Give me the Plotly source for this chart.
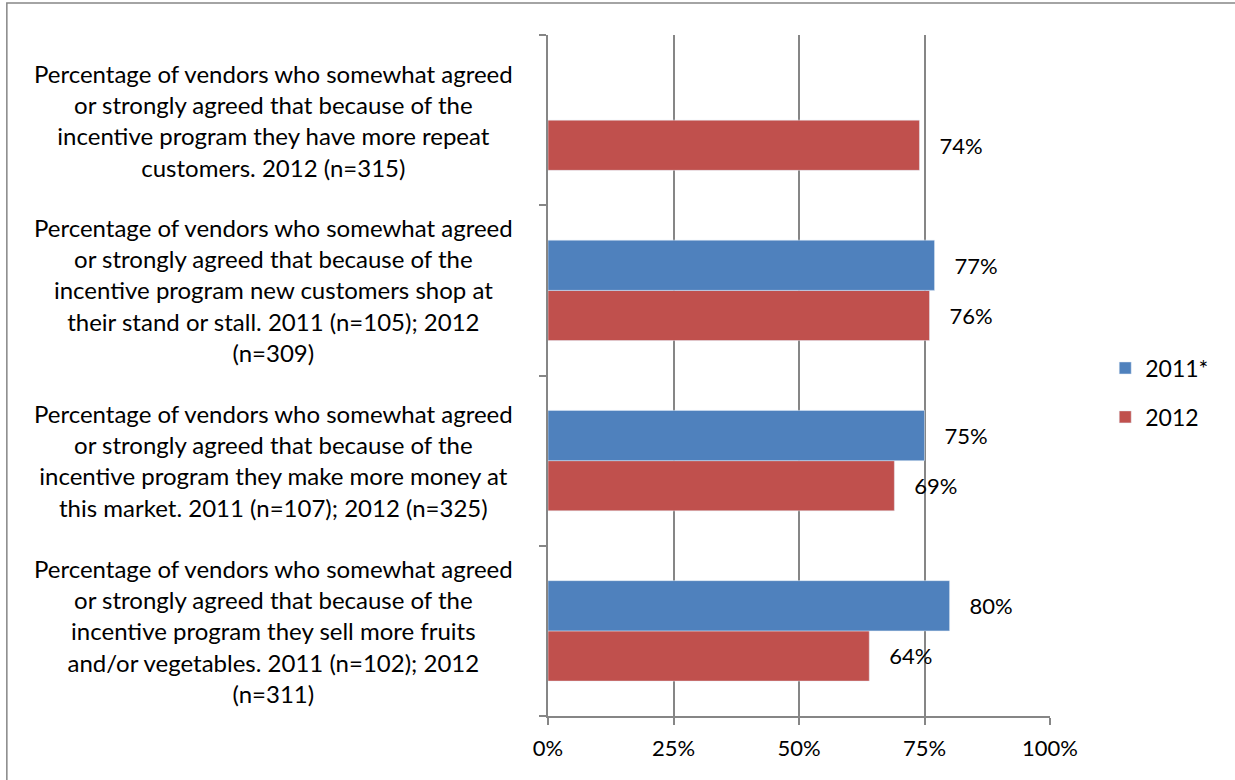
import plotly.graph_objects as go

# Survey statements, listed bottom to top as they appear on the axis
categories = [
    "Percentage of vendors who somewhat agreed<br>or strongly agreed that because of the<br>incentive program they sell more fruits<br>and/or vegetables. 2011 (n=102); 2012<br>(n=311)",
    "Percentage of vendors who somewhat agreed<br>or strongly agreed that because of the<br>incentive program they make more money at<br>this market. 2011 (n=107); 2012 (n=325)",
    "Percentage of vendors who somewhat agreed<br>or strongly agreed that because of the<br>incentive program new customers shop at<br>their stand or stall. 2011 (n=105); 2012<br>(n=309)",
    "Percentage of vendors who somewhat agreed<br>or strongly agreed that because of the<br>incentive program they have more repeat<br>customers. 2012 (n=315)",
]
values_2011 = [0.80, 0.75, 0.77, None]
values_2012 = [0.64, 0.69, 0.76, 0.74]
x_ticks = [0, 0.25, 0.5, 0.75, 1.0]
x_tick_labels = ["0%", "25%", "50%", "75%", "100%"]

FONT = "Lato, Carlito, Calibri, sans-serif"
GRID = "#868686"
BLUE = "#4F81BD"
RED = "#C0504D"
PAD = "\u00a0\u00a0\u00a0"  # gap between bar end and its value label


def value_labels(values):
    return [None if v is None else f"{PAD}{v:.0%}" for v in values]


fig = go.Figure()

# red first so that the 2011 bar sits above it inside each group
fig.add_trace(go.Bar(
    y=categories, x=values_2012, orientation="h", name="2012",
    marker=dict(color=RED), legendrank=2, legendgroup="b",
    text=value_labels(values_2012),
    textposition="outside", cliponaxis=False,
    textfont=dict(family=FONT, size=22, color="black"),
))
fig.add_trace(go.Bar(
    y=categories, x=values_2011, orientation="h", name="2011*",
    marker=dict(color=BLUE), legendrank=1, legendgroup="a",
    text=value_labels(values_2011),
    textposition="outside", cliponaxis=False,
    textfont=dict(family=FONT, size=22, color="black"),
))

# centred multi-line category labels
annotations = [
    dict(text=c, x=-0.546, xref="paper", y=c, yref="y", xanchor="center",
         yanchor="middle", align="center", showarrow=False,
         font=dict(family=FONT, size=24, color="black"))
    for c in categories
]

fig.update_layout(
    width=1235, height=780,
    margin=dict(l=548, r=185, t=35, b=64),
    paper_bgcolor="white", plot_bgcolor="white",
    barmode="group", bargap=0.41, bargroupgap=0,
    font=dict(family=FONT, size=20, color="black"),
    annotations=annotations,
    legend=dict(x=1.11, y=0.475, xanchor="left", yanchor="middle",
                traceorder="grouped", tracegroupgap=16,
                font=dict(family=FONT, size=23, color="black")),
    shapes=[dict(type="rect", xref="paper", yref="paper",
                 x0=-1.078, x1=1.40, y0=-0.12, y1=1.047,
                 line=dict(color=GRID, width=1.5), layer="below")],
)
fig.update_xaxes(
    range=[0, 1], tickvals=x_ticks, ticktext=x_tick_labels,
    showgrid=True, gridcolor=GRID, gridwidth=1.5,
    showline=True, linecolor=GRID, linewidth=1.5,
    ticks="outside", ticklen=7, tickcolor=GRID, tickwidth=1.5,
    ticklabelstandoff=5,
    zeroline=False, tickfont=dict(family=FONT, size=22),
)
fig.update_yaxes(
    showticklabels=False, showgrid=False,
    showline=True, linecolor=GRID, linewidth=1.5,
    ticks="outside", ticklen=7, tickcolor=GRID, tickwidth=1.5,
    tickson="boundaries",
)

fig.write_html("out.html")
